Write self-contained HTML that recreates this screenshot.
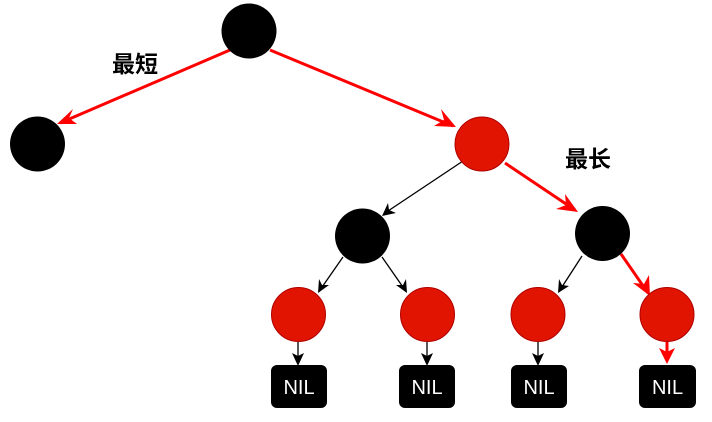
<!DOCTYPE html>
<html><head><meta charset="utf-8"><style>
html,body{margin:0;padding:0;background:#fff;width:712px;height:422px;overflow:hidden}
svg{display:block}
text{font-family:"Liberation Sans","Noto Sans CJK SC",sans-serif}
</style></head><body>
<svg width="712" height="422" viewBox="0 0 712 422" xmlns="http://www.w3.org/2000/svg">
<g stroke-width="3" stroke="#ff0000" fill="none">
<line x1="230" y1="50" x2="60" y2="123"/>
<line x1="270" y1="50" x2="453" y2="126"/>
<line x1="505" y1="163" x2="575" y2="210"/>
<line x1="621" y1="254" x2="648" y2="293"/>
<line x1="667" y1="342" x2="667" y2="361"/>
</g>
<g fill="#ff0000">
<path d="M57,124 L73,109 L69,118 L77,124 Z"/>
<path d="M456,127 L434,126 L444,120 L441,109 Z"/>
<path d="M578,212 L556,209 L566,205 L565,194 Z"/>
<path d="M650,296 L633,283 L644,284 L649,275 Z"/>
<path d="M667,364 L659,348 L667,352 L675,348 Z"/>
</g>
<g stroke="#000" stroke-width="1.3" fill="none">
<line x1="463" y1="161" x2="385" y2="213"/>
<line x1="343" y1="257" x2="320" y2="290"/>
<line x1="382" y1="257" x2="405" y2="290"/>
<line x1="582" y1="256" x2="560" y2="290"/>
<line x1="298" y1="342" x2="298" y2="363"/>
<line x1="427" y1="342" x2="427" y2="363"/>
<line x1="538" y1="342" x2="538" y2="363"/>
</g>
<g fill="#000">
<path d="M382,216 L388,203 L389,210 L396,213 Z"/>
<path d="M318,293 L319,279 L322,285 L329,285 Z"/>
<path d="M407,293 L396,285 L403,285 L406,279 Z"/>
<path d="M558,293 L559,279 L562,285 L569,286 Z"/>
<path d="M298,366 L292,353 L298,356 L304,353 Z"/>
<path d="M427,366 L421,353 L427,356 L433,353 Z"/>
<path d="M538,366 L532,353 L538,356 L544,353 Z"/>
</g>
<g fill="#000">
<circle cx="249" cy="31" r="27.5"/>
<circle cx="37.5" cy="144" r="27.5"/>
<circle cx="362.5" cy="236" r="27.5"/>
<circle cx="602.5" cy="233.5" r="27.5"/>
</g>
<g fill="#e01400" stroke="#b00000" stroke-width="1">
<circle cx="482" cy="144" r="27"/>
<circle cx="298.5" cy="314.5" r="27"/>
<circle cx="427.5" cy="314.5" r="27"/>
<circle cx="538" cy="314.5" r="27"/>
<circle cx="667" cy="314.5" r="27"/>
</g>
<g fill="#000">
<rect x="271" y="365" width="56" height="43" rx="6"/>
<rect x="399" y="365" width="56" height="43" rx="6"/>
<rect x="511" y="365" width="56" height="43" rx="6"/>
<rect x="639" y="365" width="57" height="43" rx="6"/>
</g>
<g fill="#fff" font-size="20" text-anchor="middle">
<text x="299" y="394">NIL</text>
<text x="427" y="394">NIL</text>
<text x="539" y="394">NIL</text>
<text x="667.5" y="394">NIL</text>
</g>
<g fill="#000" font-size="23" font-weight="bold">
<text x="112" y="72">最短</text>
<text x="565" y="167">最长</text>
</g>
</svg>
</body></html>
